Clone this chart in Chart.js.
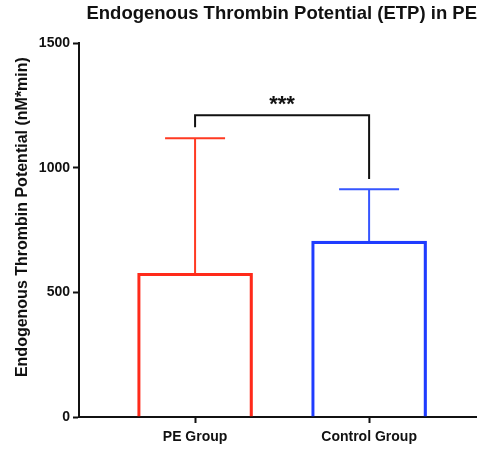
<!DOCTYPE html>
<html lang="en">
<head>
<meta charset="UTF-8">
<title>Endogenous Thrombin Potential (ETP) in PE</title>
<script src="https://cdn.jsdelivr.net/npm/chart.js"></script>
<style>
    html, body { margin: 0; padding: 0; background: #fff; }
    .wrap { width: 477px; height: 449px; }
</style>
</head>
<body>
<div class="wrap"><canvas id="grafico"></canvas></div>
<script>
    // dados
    const groups = ['PE Group', 'Control Group'];
    const groupPos = [1, 2];
    const means = [577, 706];
    const upperErr = [1119, 914];
    const yTicks = [0, 500, 1000, 1500];
    const barColors = ['#ff2a1a', '#1f3cff'];
    const errColors = ['#ff3a22', '#3656ff'];
    // colchete de significancia: altura da barra e das pernas
    const bracketTop = 1211;
    const bracketLegs = [1163, 955];
    const sigText = '***';
    const yTitle = 'Endogenous Thrombin Potential (nM*min)';

    const FONT = '"Liberation Sans", Arial, Helvetica, sans-serif';

    const extras = {
        id: 'extras',
        afterDatasetsDraw(chart) {
            const ctx = chart.ctx;
            const x = chart.scales.x, y = chart.scales.y;
            ctx.save();
            // barras de erro (so para cima)
            groupPos.forEach((p, i) => {
                const cx = x.getPixelForValue(p);
                ctx.strokeStyle = errColors[i];
                ctx.lineWidth = 2;
                ctx.beginPath();
                ctx.moveTo(cx, y.getPixelForValue(means[i]));
                ctx.lineTo(cx, y.getPixelForValue(upperErr[i]));
                ctx.moveTo(cx - 30, y.getPixelForValue(upperErr[i]));
                ctx.lineTo(cx + 30, y.getPixelForValue(upperErr[i]));
                ctx.stroke();
            });
            // colchete
            const x1 = x.getPixelForValue(groupPos[0]);
            const x2 = x.getPixelForValue(groupPos[1]);
            const yt = y.getPixelForValue(bracketTop);
            ctx.strokeStyle = '#111';
            ctx.lineWidth = 2;
            ctx.beginPath();
            ctx.moveTo(x1, y.getPixelForValue(bracketLegs[0]));
            ctx.lineTo(x1, yt);
            ctx.lineTo(x2, yt);
            ctx.lineTo(x2, y.getPixelForValue(bracketLegs[1]));
            ctx.stroke();
            ctx.fillStyle = '#111';
            ctx.font = 'bold 22px ' + FONT;
            ctx.textAlign = 'center';
            ctx.textBaseline = 'middle';
            ctx.fillText(sigText, (x1 + x2) / 2, yt - 10);
            // titulo do eixo y (um pouco acima do centro, como no original)
            ctx.translate(23, (chart.chartArea.top + chart.chartArea.bottom) / 2 - 13);
            ctx.rotate(-Math.PI / 2);
            ctx.font = 'bold 16px ' + FONT;
            ctx.fillText(yTitle, 0, 0);
            ctx.restore();
        }
    };

    new Chart(document.getElementById('grafico'), {
        type: 'bar',
        data: {
            datasets: [{
                data: groupPos.map((p, i) => ({ x: p, y: means[i] })),
                backgroundColor: 'rgba(255,255,255,0)',
                borderColor: barColors,
                borderWidth: 2.5,
                barThickness: 115
            }]
        },
        options: {
            responsive: true,
            maintainAspectRatio: false,
            animation: false,
            layout: { padding: { left: 0, right: 0, top: 0, bottom: 0 } },
            plugins: {
                legend: { display: false },
                tooltip: { enabled: false },
                title: {
                    display: true,
                    text: 'Endogenous Thrombin Potential (ETP) in PE',
                    align: 'end',
                    color: '#111',
                    font: { family: FONT, size: 18.5, weight: 'bold' },
                    padding: { top: 3, bottom: 18 }
                }
            },
            scales: {
                x: {
                    type: 'linear',
                    offset: false,
                    min: 0.333,
                    max: 2.62,
                    afterBuildTicks: s => { s.ticks = groupPos.map(v => ({ value: v })); },
                    afterFit: s => { s.height = 32; },
                    ticks: {
                        color: '#111',
                        font: { family: FONT, size: 14, weight: 'bold' },
                        padding: 6,
                        callback: v => groups[groupPos.indexOf(v)]
                    },
                    grid: { offset: false, drawOnChartArea: false, drawTicks: true, tickLength: 6, tickWidth: 2, color: '#111' },
                    border: { display: true, color: '#111', width: 2 }
                },
                y: {
                    min: 0,
                    max: 1500,
                    afterBuildTicks: s => { s.ticks = yTicks.map(v => ({ value: v })); },
                    afterFit: s => { s.width = 79; },
                    ticks: {
                        color: '#111',
                        font: { family: FONT, size: 14, weight: 'bold' },
                        padding: 3,
                        callback: v => String(v)
                    },
                    grid: { drawOnChartArea: false, drawTicks: true, tickLength: 6, tickWidth: 2, color: '#111' },
                    border: { display: true, color: '#111', width: 2 }
                }
            }
        },
        plugins: [extras]
    });
</script>
</body>
</html>
